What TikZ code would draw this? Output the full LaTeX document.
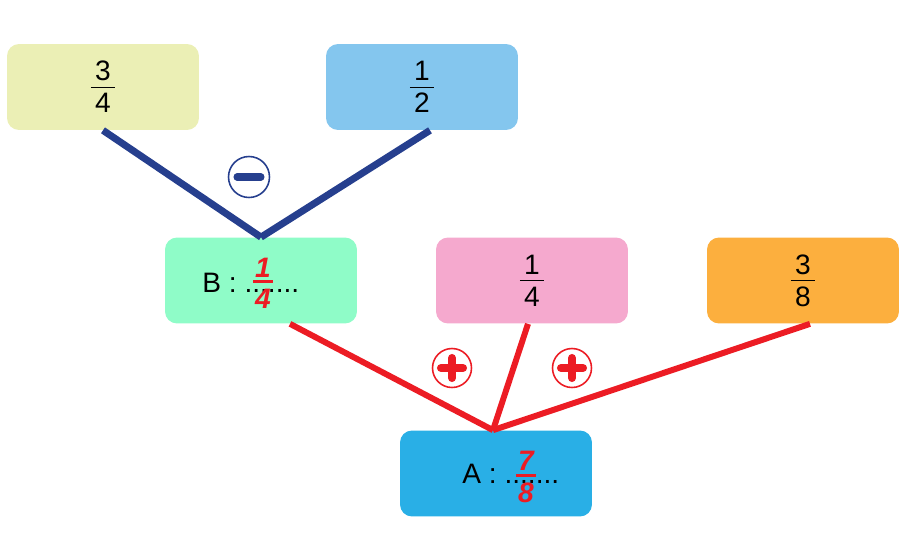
\documentclass[tikz,border=0pt]{standalone}
\usepackage{fontspec}
\setmainfont{Liberation Sans}
\usetikzlibrary{calc}
\definecolor{cYel}{HTML}{EBEFB5}
\definecolor{cSky}{HTML}{84C6EE}
\definecolor{cMint}{HTML}{8FFCC8}
\definecolor{cPink}{HTML}{F5A9CE}
\definecolor{cOrange}{HTML}{FCAF3E}
\definecolor{cBlue}{HTML}{29AFE6}
\definecolor{lineblue}{HTML}{263F8E}
\definecolor{linered}{HTML}{EC1C24}
% stacked fraction: numerator, bar, denominator with controlled gaps
\newcommand\myfrac[2]{{\renewcommand\arraystretch{0}\setlength\arrayrulewidth{0.6pt}%
  \begin{tabular}{@{\hspace{2.4pt}}c@{\hspace{2.4pt}}}%
  \rule[-3.4pt]{0pt}{11.6pt}#1\\\hline\rule{0pt}{14.2pt}#2\end{tabular}}}
\newcommand\hwfrac[2]{{\color{linered}\bfseries\itshape\renewcommand\arraystretch{0}\setlength\arrayrulewidth{1.4pt}%
  \begin{tabular}{@{\hspace{1pt}}c@{\hspace{1pt}}}%
  \rule[-1.8pt]{0pt}{12.4pt}#1\\\hline\rule{0pt}{14.6pt}#2\end{tabular}}}
\tikzset{
  box/.style={rectangle, rounded corners=0.24cm, minimum width=3.84cm, minimum height=1.72cm,
    inner sep=0pt, font=\fontsize{16}{19}\selectfont},
  lbl/.style={inner sep=0pt, font=\fontsize{16}{19}\selectfont},
  hw/.style={inner sep=0pt, font=\fontsize{16}{19}\selectfont},
  blueline/.style={draw=lineblue, line width=4pt},
  redline/.style={draw=linered, line width=3.4pt},
  signcirc/.style={circle, minimum size=0.78cm, inner sep=0pt, line width=0.9pt, fill=white},
}
\begin{document}
\begin{tikzpicture}[x=0.02cm,y=-0.02cm]
\useasboundingbox (0,0) rectangle (910,541);
% boxes
\node[box, fill=cYel]    (q34) at (103,87)    {\myfrac{3}{4}};
\node[box, fill=cSky]    (q12) at (422,87)    {\myfrac{1}{2}};
\node[box, fill=cMint]   (qB)  at (261,280.5) {};
\node[box, fill=cPink]   (q14) at (532,280.5) {\myfrac{1}{4}};
\node[box, fill=cOrange] (q38) at (803,280.5) {\myfrac{3}{8}};
\node[box, fill=cBlue]   (qA)  at (496,473.5) {};
% connectors
\draw[blueline] (q34.south) -- (qB.north);
\draw[blueline] ($(q12.south)+(8,0)$) -- (qB.north);
\draw[redline] ($(qB.south)+(29,0)$) -- ($(qA.north)+(-3,0)$);
\draw[redline] ($(q14.south)+(-4,0)$) -- ($(qA.north)+(-3,0)$);
\draw[redline] ($(q38.south)+(7,0)$) -- ($(qA.north)+(-3,0)$);
% box labels
\node[lbl, anchor=base west] (tB) at (202,292) {B : .......};
\node[lbl, anchor=base west] (tA) at (462,483) {A : .......};
\node[hw] (hB) at (263,283) {\hwfrac{1}{4}};
\node[hw] (hA) at (526,477) {\hwfrac{7}{8}};
% signs
\node[signcirc, draw=lineblue, minimum size=0.82cm] (minus) at (249,177) {};
\draw[lineblue, line width=4pt, line cap=round] ($(minus.center)+(-12,0)$) -- ($(minus.center)+(12,0)$);
\node[signcirc, draw=linered] (plus1) at (452,368) {};
\node[signcirc, draw=linered] (plus2) at (572,368) {};
\foreach \p in {plus1,plus2}{
  \draw[linered, line width=4.6pt, line cap=round] ($(\p.center)+(-11,0)$) -- ($(\p.center)+(11,0)$);
  \draw[linered, line width=4.6pt, line cap=round] ($(\p.center)+(0,-10)$) -- ($(\p.center)+(0,10)$);
}
\end{tikzpicture}
\end{document}
